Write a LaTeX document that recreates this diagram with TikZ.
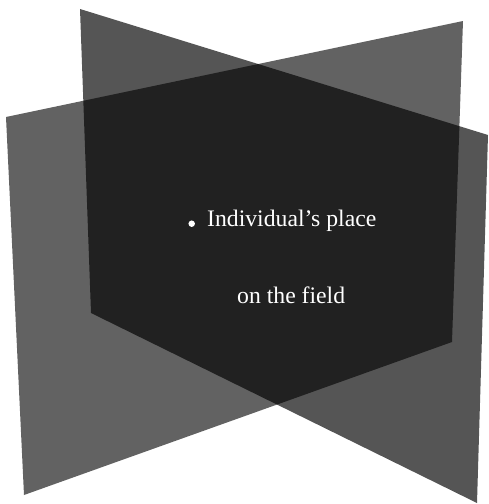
\documentclass[tikz,border=0pt]{standalone}
\usepackage{fontspec}
\setmainfont{Liberation Serif}
\begin{document}
\begin{tikzpicture}[x=1pt,y=-1pt,
  planeA/.style={fill=black,fill opacity=0.667},
  planeB/.style={fill=black,fill opacity=0.616},
  lbl/.style={text=white,font=\fontsize{23.7}{28}\selectfont,inner sep=0pt,anchor=base west},
  bulletdot/.style={circle,fill=white,inner sep=0pt,minimum size=6.5pt}]
\useasboundingbox (0,0) rectangle (488,504);
\fill[planeA] (80,9) -- (488,135) -- (477,503) -- (91,313) -- cycle;
\fill[planeB] (6,117) -- (463,21) -- (452,342) -- (24,495) -- cycle;
\node[bulletdot] (bul) at (191.7,223.7) {};
\node[lbl] (l1) at (207,226) {Individual’s place};
\node[lbl] (l2) at (237,303) {on the field};
\end{tikzpicture}
\end{document}
